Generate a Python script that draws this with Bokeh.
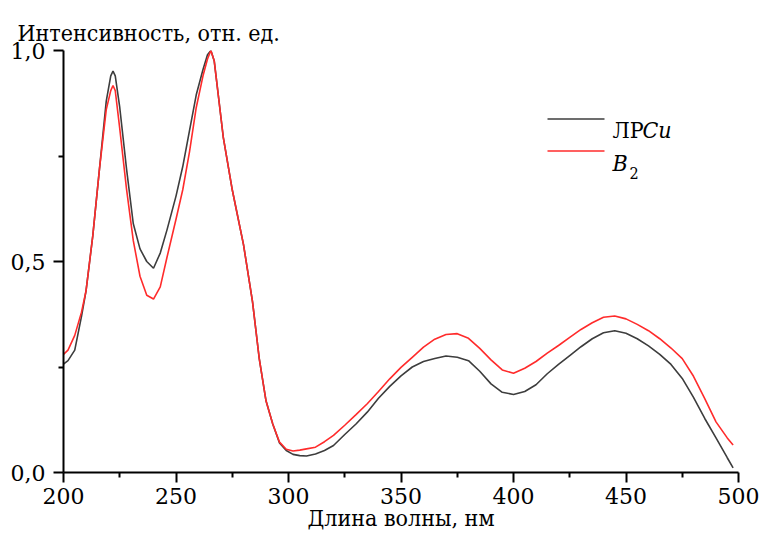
from bokeh.plotting import figure
from bokeh.models import Range1d, FixedTicker, Label, Arrow, CustomJSTickFormatter
from bokeh.embed import file_html
from bokeh.resources import INLINE

# ---- data ----
wavelength = [200, 202, 205, 208, 210, 213, 216, 219, 221, 222,
              223, 225, 228, 231, 234, 237, 240, 243, 246, 250,
              253, 256, 259, 262, 264, 265.5, 267, 269, 271,
              275, 280, 284, 287, 290,
              293, 296, 299, 302, 305, 308, 312, 316, 320, 325,
              330, 335, 340, 345, 350, 355, 360, 365, 370, 375,
              380, 385, 390, 395, 400, 405, 410, 415, 420, 425,
              430, 435, 440, 445, 450, 455, 460, 465, 470, 475,
              480, 485, 490, 495, 497.6]

lrcu = [0.257, 0.265, 0.29, 0.37, 0.43, 0.56, 0.72, 0.88, 0.94, 0.951,
        0.94, 0.865, 0.72, 0.59, 0.53, 0.50, 0.484, 0.52, 0.575, 0.655,
        0.725, 0.81, 0.895, 0.955, 0.99, 1.0, 0.975, 0.885, 0.795,
        0.67, 0.54, 0.405, 0.27, 0.17,
        0.115, 0.07, 0.052, 0.043, 0.04, 0.039, 0.044, 0.052, 0.064, 0.09,
        0.115, 0.143, 0.176, 0.204, 0.229, 0.25, 0.263, 0.27, 0.276, 0.273,
        0.265, 0.24, 0.21, 0.19, 0.185, 0.192, 0.208, 0.234, 0.256, 0.277,
        0.298, 0.317, 0.331, 0.336, 0.33, 0.317, 0.30, 0.28, 0.256, 0.223,
        0.178, 0.128, 0.082, 0.035, 0.011]

b2 = [0.28, 0.29, 0.325, 0.38, 0.43, 0.56, 0.72, 0.86, 0.905, 0.917,
      0.905, 0.815, 0.672, 0.55, 0.465, 0.42, 0.411, 0.44, 0.51, 0.60,
      0.67, 0.76, 0.865, 0.94, 0.98, 1.0, 0.975, 0.885, 0.795,
      0.67, 0.54, 0.405, 0.27, 0.17,
      0.115, 0.072, 0.055, 0.051, 0.053, 0.056, 0.06, 0.073, 0.088, 0.112,
      0.137, 0.163, 0.192, 0.222, 0.249, 0.273, 0.297, 0.316, 0.327, 0.329,
      0.318, 0.294, 0.267, 0.243, 0.235, 0.247, 0.263, 0.283, 0.301, 0.32,
      0.339, 0.355, 0.368, 0.371, 0.364, 0.351, 0.336, 0.317, 0.295, 0.27,
      0.228, 0.175, 0.12, 0.082, 0.065]

x_ticks = [200, 250, 300, 350, 400, 450, 500]
x_minor = [225, 275, 325, 375, 425, 475]
y_ticks = [0.0, 0.5, 1.0]
y_minor = [0.25, 0.75]

y_title = "Интенсивность, отн. ед."
x_title = "Длина волны, нм"

FONT = "DejaVu Serif"
FONT_C = "DejaVu Serif Condensed"
BLACK_C = "#3d3d3d"
RED_C = "#ff2b2b"

p = figure(width=760, height=538, output_backend="svg", toolbar_location=None,
           x_range=Range1d(200, 500), y_range=Range1d(0, 1.0),
           min_border_left=63, min_border_top=50, min_border_right=22,
           min_border_bottom=66)
p.outline_line_color = None
p.grid.visible = False
p.background_fill_color = "white"
p.border_fill_color = "white"

p.title.text = y_title
p.title.align = "left"
p.title.offset = -46
p.title.standoff = 10
p.title.text_font = FONT_C
p.title.text_font_size = "23px"
p.title.text_font_style = "normal"
p.title.text_color = "black"

for ax in (p.xaxis[0], p.yaxis[0]):
    ax.axis_line_width = 2
    ax.axis_line_color = "black"
    ax.major_tick_line_width = 2
    ax.minor_tick_line_width = 2
    ax.major_tick_line_color = "black"
    ax.minor_tick_line_color = "black"
    ax.major_tick_in = 0
    ax.major_tick_out = 10
    ax.minor_tick_in = 0
    ax.minor_tick_out = 5
    ax.major_label_text_font = FONT
    ax.major_label_text_font_size = "22px"
    ax.major_label_text_color = "black"

p.xaxis[0].ticker = FixedTicker(ticks=x_ticks, minor_ticks=x_minor)
p.yaxis[0].ticker = FixedTicker(ticks=y_ticks, minor_ticks=y_minor)
p.yaxis[0].formatter = CustomJSTickFormatter(code="return tick.toFixed(1).replace('.', ',');")
p.xaxis[0].major_label_standoff = 5
p.yaxis[0].major_label_standoff = 8

p.xaxis[0].axis_label = x_title
p.xaxis[0].axis_label_text_font = FONT_C
p.xaxis[0].axis_label_text_font_size = "23px"
p.xaxis[0].axis_label_text_font_style = "normal"
p.xaxis[0].axis_label_text_color = "black"
p.xaxis[0].axis_label_standoff = -2

p.line(wavelength, lrcu, line_color=BLACK_C, line_width=1.6)
p.line(wavelength, b2, line_color=RED_C, line_width=1.6)

def lab(text, x, y, size="23px", style="normal", align="left", font=FONT_C):
    p.add_layout(Label(x=x, y=y, x_units="screen", y_units="screen", text=text,
                       text_font=font, text_font_size=size, text_font_style=style,
                       text_color="black", text_baseline="alphabetic",
                       text_align=align))

# legend
p.add_layout(Arrow(end=None, x_start=484, y_start=353.5, x_end=541, y_end=353.5,
                   start_units="screen", end_units="screen",
                   line_color=BLACK_C, line_width=1.6))
p.add_layout(Arrow(end=None, x_start=484, y_start=321.5, x_end=541, y_end=321.5,
                   start_units="screen", end_units="screen",
                   line_color=RED_C, line_width=1.6))
lab("ЛР", 549, 342.2)
lab("Cu", 579, 342.2, style="italic")
lab("B", 549, 309.8, style="italic")
lab("2", 566, 299.8, size="16px")

open("out.html", "w").write(file_html(p, INLINE))
